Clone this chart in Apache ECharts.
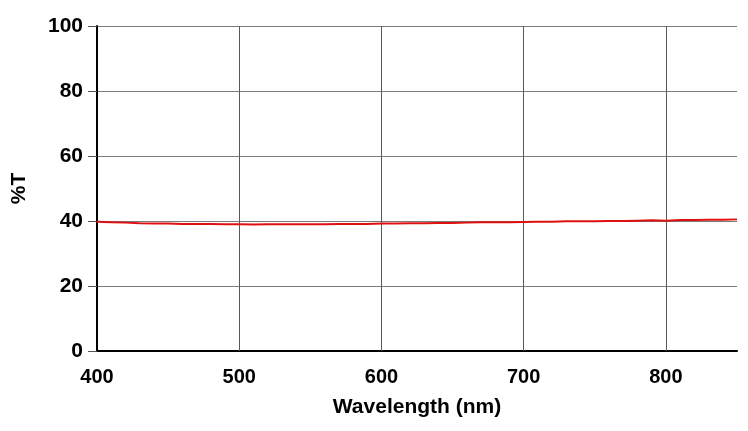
<!DOCTYPE html>
<html><head><meta charset="utf-8">
<script src="https://cdn.jsdelivr.net/npm/echarts@6/dist/echarts.min.js"></script>
<style>html,body{margin:0;padding:0;background:#fff}#c{width:748px;height:431px}</style>
</head><body><div id="c"></div>
<script>
const wavelengths = [400,410,420,430,440,450,460,470,480,490,500,510,520,530,540,550,560,570,580,590,600,610,620,630,640,650,660,670,680,690,700,710,720,730,740,750,760,770,780,790,800,810,820,830,840,850];
const transmission = [39.8,39.6,39.5,39.3,39.2,39.2,39.1,39.1,39.1,39.0,39.0,38.9,39.0,39.0,39.0,39.0,39.0,39.1,39.1,39.1,39.2,39.2,39.3,39.3,39.4,39.4,39.5,39.6,39.6,39.6,39.7,39.8,39.8,39.9,39.9,39.9,40.0,40.0,40.1,40.2,40.1,40.3,40.3,40.4,40.4,40.5];
const xGridTicks = [500,600,700,800];
const xLabel = 'Wavelength (nm)';
const yLabel = '%T';

const chart = echarts.init(document.getElementById('c'));
const font = 'Liberation Sans, Arial, sans-serif';
chart.setOption({
  animation:false,
  grid:{left:97,right:11,top:26,bottom:80},
  xAxis:{type:'value',min:400,max:850,interval:100,
    name:xLabel,nameLocation:'middle',nameGap:46,
    nameTextStyle:{fontFamily:font,fontWeight:'bold',fontSize:21,color:'#000'},
    axisLine:{show:true,onZero:false,lineStyle:{color:'#000',width:2}},
    axisTick:{show:false},
    axisLabel:{fontFamily:font,fontWeight:'bold',fontSize:20,color:'#000',margin:16,showMaxLabel:false},
    splitLine:{show:false}},
  yAxis:{type:'value',min:0,max:100,interval:20,
    name:yLabel,nameLocation:'middle',nameGap:67,
    nameTextStyle:{fontFamily:font,fontWeight:'bold',fontSize:21,color:'#000'},
    axisLine:{show:true,lineStyle:{color:'#000',width:2}},
    axisTick:{show:true,length:9,lineStyle:{color:'#555',width:1}},
    axisLabel:{fontFamily:font,fontWeight:'bold',fontSize:21,color:'#000',margin:14},
    splitLine:{show:true,lineStyle:{color:'#7a7a7a',width:1}}},
  series:[{type:'line',data:wavelengths.map((w,i)=>[w,transmission[i]]),
    showSymbol:false,lineStyle:{color:'#e01010',width:2},z:5,
    markLine:{silent:true,symbol:'none',label:{show:false},
      lineStyle:{color:'#5a5a5a',width:1,type:'solid'},
      data:xGridTicks.map(v=>({xAxis:v}))}}]
});
</script></body></html>
